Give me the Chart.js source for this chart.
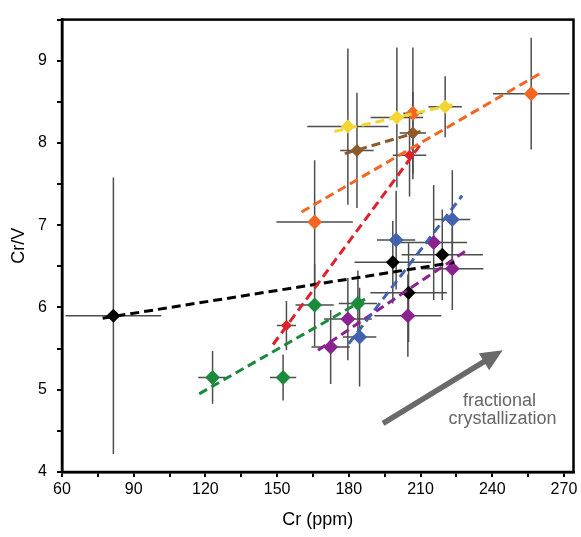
<!DOCTYPE html>
<html lang="en">
<head>
<meta charset="UTF-8">
<title>Cr vs Cr/V</title>
<script src="https://cdn.jsdelivr.net/npm/chart.js"></script>
<style>
  html, body { margin: 0; padding: 0; background: #fff; }
  .chart-container { width: 581px; height: 537px; }
</style>
</head>
<body>
<div class="chart-container">
  <canvas id="crChart" width="581" height="537"></canvas>
</div>
<script>
// values: Cr (ppm), Cr/V, and the error bar half-widths
const yellowCr = [179.6, 200.1, 220.3];
const yellowCrV = [8.20, 8.31, 8.44];
const yellowCrErr = [17, 11, 7];
const yellowCrVErr = [0.95, 0.85, 0.37];
const yellowFitCr = [174, 225.6];
const yellowFitCrV = [8.14, 8.48];

const brownCr = [183.4, 206.8];
const brownCrV = [7.91, 8.12];
const brownCrErr = [7, 5.5];
const brownCrVErr = [0.7, 0.5];
const brownFitCr = [178.3, 211];
const brownFitCrV = [7.87, 8.15];

const orangeCr = [165.7, 206.8, 256.3];
const orangeCrV = [7.04, 8.36, 8.60];
const orangeCrErr = [16, 4, 16];
const orangeCrVErr = [0.75, 0.8, 0.68];
const orangeFitCr = [160.2, 260.9];
const orangeFitCrV = [7.16, 8.86];

const redCr = [153.9, 205.4];
const redCrV = [5.78, 7.85];
const redCrErr = [4, 7];
const redCrVErr = [0.3, 0.5];
const redFitCr = [148.3, 211];
const redFitCrV = [5.55, 8.02];

const greenCr = [123, 152.5, 165.7, 183.8];
const greenCrV = [5.15, 5.15, 6.03, 6.05];
const greenCrErr = [6, 5.5, 8, 8];
const greenCrVErr = [0.32, 0.28, 0.5, 0.4];
const greenFitCr = [117.4, 187.3];
const greenFitCrV = [4.95, 6.11];

const blueCr = [184.5, 199.8, 223.3];
const blueCrV = [5.64, 6.82, 7.07];
const blueCrErr = [7, 8, 7.5];
const blueCrVErr = [0.6, 0.6, 0.6];
const blueFitCr = [180, 227.4];
const blueFitCrV = [5.56, 7.36];

const purpleCr = [172.4, 179.6, 204.7, 215.5, 223.3];
const purpleCrV = [5.52, 5.86, 5.90, 6.79, 6.47];
const purpleCrErr = [8, 10, 14, 14, 13];
const purpleCrVErr = [0.45, 0.5, 0.5, 0.7, 0.5];
const purpleFitCr = [167.1, 229.1];
const purpleFitCrV = [5.48, 6.69];

const blackCr = [81.5, 198.4, 205, 219.1];
const blackCrV = [5.9, 6.55, 6.18, 6.64];
const blackCrErr = [20, 16, 16, 17];
const blackCrVErr = [1.68, 0.5, 0.6, 0.55];
const blackFitCr = [77, 224.2];
const blackFitCrV = [5.87, 6.55];

// arrow and its label, in data units
const arrowCr = [194.3, 244.4];
const arrowCrV = [4.59, 5.48];
const arrowText = ['fractional', 'crystallization'];

function pts(xs, ys) {
  return xs.map((x, i) => ({ x: x, y: ys[i] }));
}

function pointSet(label, color, xs, ys, ex, ey, radius) {
  return {
    type: 'scatter',
    label: label,
    data: pts(xs, ys),
    errX: ex,
    errY: ey,
    pointStyle: 'rectRot',
    pointRadius: radius || 7.5,
    backgroundColor: color,
    borderColor: color,
    borderWidth: 0,
    order: 2
  };
}

function fitSet(label, color, xs, ys) {
  return {
    type: 'line',
    label: label,
    data: pts(xs, ys),
    borderColor: color,
    borderWidth: 3,
    borderDash: [9, 5],
    pointRadius: 0,
    fill: false,
    order: 1
  };
}

const colors = {
  yellow: '#f3d534',
  brown: '#8d5a2c',
  orange: '#f26522',
  red: '#e0202a',
  green: '#1c8a3c',
  blue: '#4262ae',
  purple: '#8a2290',
  black: '#000000'
};

// error bars drawn under the markers
const errorBars = {
  id: 'errorBars',
  beforeDatasetsDraw(chart) {
    const ctx = chart.ctx;
    const xs = chart.scales.x, ys = chart.scales.y;
    const area = chart.chartArea;
    ctx.save();
    ctx.beginPath();
    ctx.rect(area.left, area.top, area.right - area.left, area.bottom - area.top);
    ctx.clip();
    ctx.strokeStyle = '#4d4d4d';
    ctx.lineWidth = 1.5;
    chart.data.datasets.forEach(ds => {
      if (!ds.errX) return;
      ds.data.forEach((p, i) => {
        const px = xs.getPixelForValue(p.x), py = ys.getPixelForValue(p.y);
        ctx.beginPath();
        ctx.moveTo(xs.getPixelForValue(p.x - ds.errX[i]), py);
        ctx.lineTo(xs.getPixelForValue(p.x + ds.errX[i]), py);
        ctx.moveTo(px, ys.getPixelForValue(p.y - ds.errY[i]));
        ctx.lineTo(px, ys.getPixelForValue(p.y + ds.errY[i]));
        ctx.stroke();
      });
    });
    ctx.restore();
  }
};

// frame, arrow and note
const extras = {
  id: 'extras',
  afterDraw(chart) {
    const ctx = chart.ctx;
    const xs = chart.scales.x, ys = chart.scales.y;
    const a = chart.chartArea;
    ctx.save();
    const x0 = xs.getPixelForValue(arrowCr[0]), y0 = ys.getPixelForValue(arrowCrV[0]);
    const x1 = xs.getPixelForValue(arrowCr[1]), y1 = ys.getPixelForValue(arrowCrV[1]);
    const ang = Math.atan2(y1 - y0, x1 - x0);
    const head = 22, half = 10;
    ctx.strokeStyle = '#6a6a6a';
    ctx.fillStyle = '#6a6a6a';
    ctx.lineWidth = 5.5;
    ctx.beginPath();
    ctx.moveTo(x0, y0);
    ctx.lineTo(x1 - Math.cos(ang) * head * 0.8, y1 - Math.sin(ang) * head * 0.8);
    ctx.stroke();
    ctx.beginPath();
    ctx.moveTo(x1, y1);
    ctx.lineTo(x1 - head * Math.cos(ang) + half * Math.sin(ang), y1 - head * Math.sin(ang) - half * Math.cos(ang));
    ctx.lineTo(x1 - head * Math.cos(ang) - half * Math.sin(ang), y1 - head * Math.sin(ang) + half * Math.cos(ang));
    ctx.closePath();
    ctx.fill();

    ctx.fillStyle = '#666';
    ctx.font = '18px "Liberation Sans", Arial, sans-serif';
    ctx.textAlign = 'center';
    ctx.textBaseline = 'middle';
    ctx.fillText(arrowText[0], xs.getPixelForValue(243), ys.getPixelForValue(4.86));
    ctx.fillText(arrowText[1], xs.getPixelForValue(244.3), ys.getPixelForValue(4.64));

    ctx.strokeStyle = '#000';
    ctx.lineWidth = 2.5;
    ctx.strokeRect(a.left, a.top, a.right - a.left, a.bottom - a.top);
    ctx.restore();
  }
};

const font = { family: '"Liberation Sans", Arial, sans-serif', size: 16 };
const titleFont = { family: '"Liberation Sans", Arial, sans-serif', size: 18 };

new Chart(document.getElementById('crChart').getContext('2d'), {
  type: 'scatter',
  data: {
    datasets: [
      fitSet('yellow fit', colors.yellow, yellowFitCr, yellowFitCrV),
      fitSet('brown fit', colors.brown, brownFitCr, brownFitCrV),
      fitSet('orange fit', colors.orange, orangeFitCr, orangeFitCrV),
      fitSet('red fit', colors.red, redFitCr, redFitCrV),
      fitSet('green fit', colors.green, greenFitCr, greenFitCrV),
      fitSet('blue fit', colors.blue, blueFitCr, blueFitCrV),
      fitSet('purple fit', colors.purple, purpleFitCr, purpleFitCrV),
      fitSet('black fit', colors.black, blackFitCr, blackFitCrV),
      pointSet('yellow', colors.yellow, yellowCr, yellowCrV, yellowCrErr, yellowCrVErr, 7),
      pointSet('brown', colors.brown, brownCr, brownCrV, brownCrErr, brownCrVErr, 6.5),
      pointSet('orange', colors.orange, orangeCr, orangeCrV, orangeCrErr, orangeCrVErr),
      pointSet('red', colors.red, redCr, redCrV, redCrErr, redCrVErr, 5.5),
      pointSet('green', colors.green, greenCr, greenCrV, greenCrErr, greenCrVErr),
      pointSet('blue', colors.blue, blueCr, blueCrV, blueCrErr, blueCrVErr),
      pointSet('purple', colors.purple, purpleCr, purpleCrV, purpleCrErr, purpleCrVErr),
      pointSet('black', colors.black, blackCr, blackCrV, blackCrErr, blackCrVErr, 7)
    ]
  },
  options: {
    responsive: false,
    animation: false,
    layout: { padding: { top: 6, right: 6, bottom: 6, left: 0 } },
    plugins: { legend: { display: false }, tooltip: { enabled: false } },
    scales: {
      x: {
        type: 'linear',
        min: 60,
        max: 274,
        afterFit(s) { s.height = 59; },
        border: { color: '#000', width: 2.5 },
        grid: { drawOnChartArea: false, color: '#000', tickLength: 5, lineWidth: 2 },
        ticks: {
          stepSize: 15,
          includeBounds: false,
          padding: 3,
          color: '#000',
          font: font,
          maxRotation: 0,
          autoSkip: false,
          callback: v => (v % 30 === 0 ? String(v) : '')
        },
        title: { display: true, text: 'Cr (ppm)', color: '#000', font: titleFont, padding: 0 }
      },
      y: {
        type: 'linear',
        min: 4,
        max: 9.5,
        afterFit(s) { s.width = 62; },
        border: { color: '#000', width: 2.5 },
        grid: { drawOnChartArea: false, color: '#000', tickLength: 5, lineWidth: 2 },
        ticks: {
          stepSize: 0.5,
          includeBounds: false,
          padding: 10,
          color: '#000',
          font: font,
          autoSkip: false,
          callback: v => (Number.isInteger(v) ? String(v) : '')
        },
        title: { display: true, text: 'Cr/V', color: '#000', font: titleFont, padding: { top: 8, bottom: 0 } }
      }
    }
  },
  plugins: [errorBars, extras]
});
</script>
</body>
</html>
